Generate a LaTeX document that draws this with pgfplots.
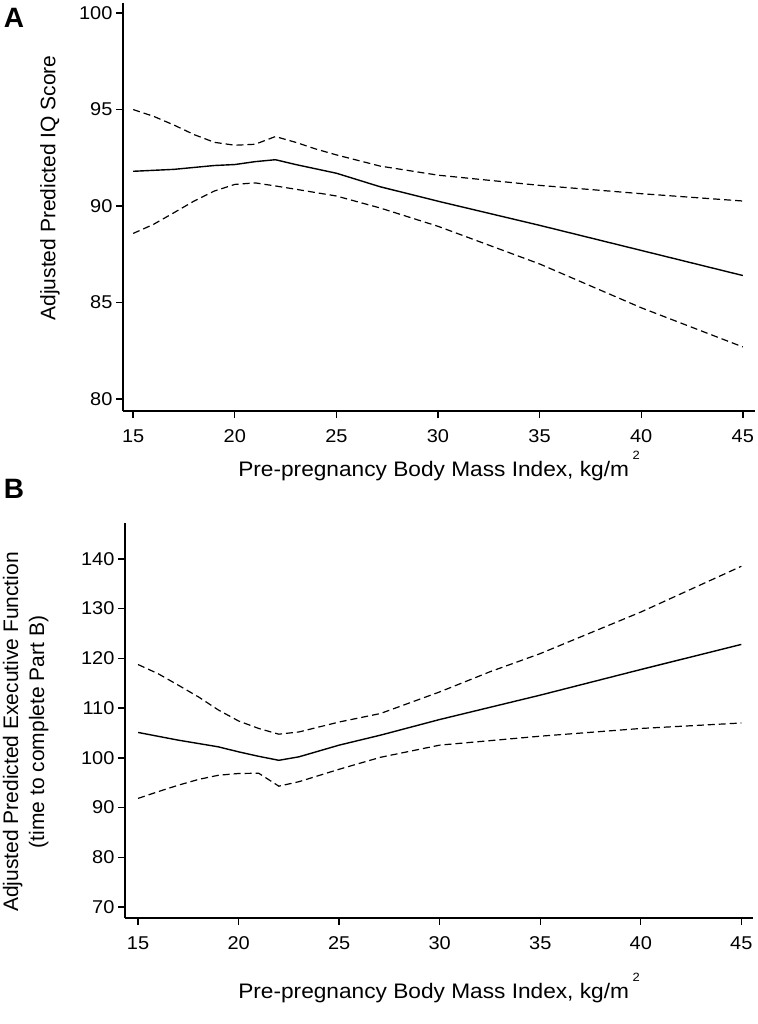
\documentclass[border=0pt]{standalone}
\usepackage{fontspec}
\setmainfont{Liberation Sans}
\newfontfamily\stretchfont{Liberation Sans}[FakeStretch=1.08]
\newfontfamily\panelfont{Liberation Sans Bold}
\usepackage{pgfplots}
\pgfplotsset{compat=1.18}
\pgfplotsset{
  stata/.style={
    scale only axis,
    axis x line*=bottom, axis y line*=left,
    axis line style={line width=1.6pt,-},
    x axis line style={-}, y axis line style={-},
    tick align=outside,
    major tick length=7pt,
    tick style={line width=1.4pt,black},
    tick label style={font=\fontsize{18.5}{20}\stretchfont},
    /pgf/number format/assume math mode=true,
    xtick={15,20,...,45},
    ylabel style={font=\fontsize{21}{25}\selectfont},
    xlabel style={font=\fontsize{21}{25}\stretchfont},
  },
  ci/.style={black,line width=1.2pt,dash pattern=on 7pt off 4pt},
  fit/.style={black,line width=1.4pt},
}
\newcommand{\bmilabel}{Pre-pregnancy Body Mass Index, kg/m\,\raisebox{0.8em}{\fontsize{12}{12}\selectfont 2}}
\begin{document}
\begin{tikzpicture}
\path[use as bounding box] (0,0) rectangle (757pt,-1024pt);
\node[inner sep=0pt] at (14pt,-18pt) {\fontsize{28}{30}\panelfont A};
\node[inner sep=0pt] at (14pt,-489pt) {\fontsize{28}{30}\panelfont B};
% Panel A
\begin{axis}[stata,
  at={(123pt,-411pt)}, anchor=south west,
  width=632pt, height=408pt,
  xmin=14.5, xmax=45.6, ymin=79.38, ymax=100.52,
  ytick={80,85,90,95,100},
  xticklabel style={yshift=-8pt},
  ylabel={Adjusted Predicted IQ Score},
  ylabel style={at={(axis description cs:-0.1155,0.5466)},anchor=center},
  xlabel={\bmilabel},
  xlabel style={at={(axis description cs:0.5,-0.135)},anchor=center},
]
\addplot[fit] coordinates {(15,91.8) (17,91.9) (19,92.1) (20,92.15) (21,92.3) (22,92.4) (23,92.15) (25,91.7) (27.15,91.0) (30,90.25) (35,89.0) (40,87.7) (45,86.4)};
\addplot[ci] coordinates {(15,95.0) (16,94.65) (17,94.2) (18,93.7) (19,93.3) (20,93.15) (21,93.2) (22,93.6) (23,93.3) (24,92.95) (25,92.65) (27.15,92.07) (30,91.6) (35,91.07) (40,90.64) (45,90.26)};
\addplot[ci] coordinates {(15,88.58) (16,89.05) (17,89.65) (18,90.26) (19,90.78) (20,91.12) (21,91.2) (22,91.04) (23,90.87) (25,90.52) (27.15,89.9) (30,88.95) (35,87.0) (40,84.73) (45,82.7)};
\end{axis}
% Panel B
\begin{axis}[stata,
  at={(125pt,-918pt)}, anchor=south west,
  width=628pt, height=395pt,
  xmin=14.35, xmax=45.58, ymin=67.8, ymax=147.2,
  ytick={70,80,...,140},
  xticklabel style={yshift=-8pt},
  ylabel={\begin{tabular}{c}Adjusted Predicted Executive Function\\[1pt](time to complete Part B)\end{tabular}},
  ylabel style={at={(axis description cs:-0.1576,0.471)},anchor=center},
  xlabel={\bmilabel},
  xlabel style={at={(axis description cs:0.5,-0.177)},anchor=center},
]
\addplot[fit] coordinates {(15,105.1) (17,103.55) (19,102.2) (20,101.2) (21,100.3) (22,99.5) (23,100.2) (25,102.55) (27.05,104.55) (30,107.7) (35,112.6) (40,117.75) (45,122.8)};
\addplot[ci] coordinates {(15,118.75) (16,116.9) (17,114.6) (18,112.25) (19,109.6) (20,107.4) (21,105.9) (22,104.75) (23,105.2) (25,107.2) (27.05,108.9) (30,113.25) (32.5,117.3) (35,120.95) (40,129.3) (45,138.5)};
\addplot[ci] coordinates {(15,91.85) (16,93.2) (17,94.5) (18,95.65) (19,96.5) (20,96.85) (21,96.9) (22,94.3) (23,95.2) (25,97.7) (27.05,100.1) (30,102.55) (35,104.35) (40,105.9) (45,107.0)};
\end{axis}
\end{tikzpicture}
\end{document}
